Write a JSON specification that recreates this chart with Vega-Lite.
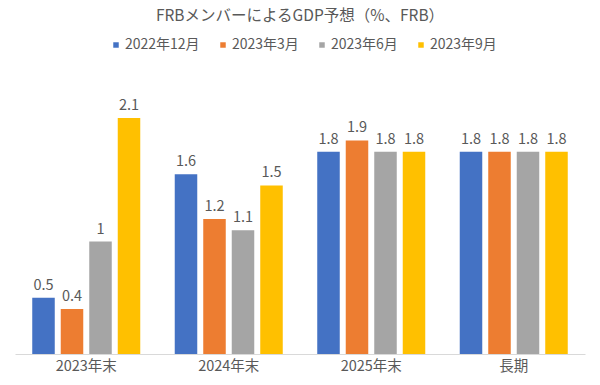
{
  "$schema": "https://vega.github.io/schema/vega-lite/v6.json",
  "width": 570,
  "height": 281,
  "autosize": {"type": "none"},
  "padding": {"left": 15, "top": 73, "right": 15, "bottom": 31},
  "background": "white",
  "title": {
    "text": "FRBメンバーによるGDP予想（%、FRB）",
    "anchor": "middle",
    "font": "Noto Sans CJK JP",
    "fontSize": 15.5,
    "fontWeight": "normal",
    "color": "#595959",
    "offset": 14
  },
  "data": {
    "values": [
      {"period": "2023年末", "release": "2022年12月", "value": 0.5},
      {"period": "2023年末", "release": "2023年3月", "value": 0.4},
      {"period": "2023年末", "release": "2023年6月", "value": 1},
      {"period": "2023年末", "release": "2023年9月", "value": 2.1},
      {"period": "2024年末", "release": "2022年12月", "value": 1.6},
      {"period": "2024年末", "release": "2023年3月", "value": 1.2},
      {"period": "2024年末", "release": "2023年6月", "value": 1.1},
      {"period": "2024年末", "release": "2023年9月", "value": 1.5},
      {"period": "2025年末", "release": "2022年12月", "value": 1.8},
      {"period": "2025年末", "release": "2023年3月", "value": 1.9},
      {"period": "2025年末", "release": "2023年6月", "value": 1.8},
      {"period": "2025年末", "release": "2023年9月", "value": 1.8},
      {"period": "長期", "release": "2022年12月", "value": 1.8},
      {"period": "長期", "release": "2023年3月", "value": 1.8},
      {"period": "長期", "release": "2023年6月", "value": 1.8},
      {"period": "長期", "release": "2023年9月", "value": 1.8}
    ]
  },
  "encoding": {
    "x": {
      "field": "period",
      "type": "nominal",
      "sort": ["2023年末", "2024年末", "2025年末", "長期"],
      "scale": {"paddingInner": 0.242, "paddingOuter": 0.121},
      "axis": {
        "title": null,
        "labelAngle": 0,
        "ticks": false,
        "domainColor": "#D9D9D9",
        "domainWidth": 1,
        "labelFont": "Noto Sans CJK JP",
        "labelFontSize": 14.5,
        "labelColor": "#595959",
        "labelPadding": 5
      }
    },
    "xOffset": {
      "field": "release",
      "type": "nominal",
      "sort": ["2022年12月", "2023年3月", "2023年6月", "2023年9月"],
      "scale": {"paddingInner": 0.21, "paddingOuter": 0}
    },
    "y": {
      "field": "value",
      "type": "quantitative",
      "scale": {"domain": [0, 2.5], "nice": false, "zero": true},
      "axis": null
    }
  },
  "layer": [
    {
      "mark": {"type": "bar"},
      "encoding": {
        "color": {
          "field": "release",
          "type": "nominal",
          "sort": ["2022年12月", "2023年3月", "2023年6月", "2023年9月"],
          "scale": {
            "domain": ["2022年12月", "2023年3月", "2023年6月", "2023年9月"],
            "range": ["#4472C4", "#ED7D31", "#A5A5A5", "#FFC000"]
          },
          "legend": {
            "title": null,
            "orient": "none",
            "direction": "horizontal",
            "legendX": 94,
            "legendY": -35,
            "symbolType": "square",
            "symbolSize": 30,
            "symbolStrokeWidth": 0,
            "labelFont": "Noto Sans CJK JP",
            "labelFontSize": 14,
            "labelColor": "#595959",
            "labelOffset": 2,
            "columnPadding": 16
          }
        }
      }
    },
    {
      "mark": {
        "type": "text",
        "baseline": "bottom",
        "dy": -5,
        "font": "Noto Sans CJK JP",
        "fontSize": 14.5,
        "color": "#595959"
      },
      "encoding": {
        "text": {"field": "value", "type": "quantitative"}
      }
    }
  ],
  "config": {
    "view": {"stroke": null}
  }
}
